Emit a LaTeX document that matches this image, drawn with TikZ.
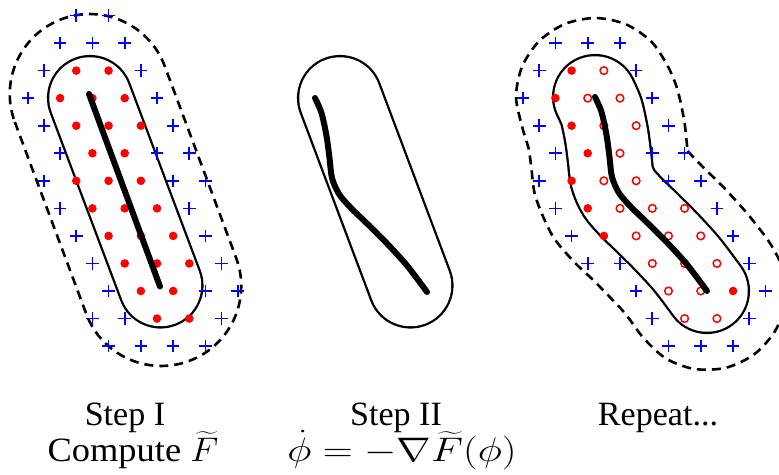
\documentclass[tikz,border=0pt]{standalone}
\usepackage{fontspec}
\setmainfont{Liberation Serif}
% the flow curve, relative to its start point
\newcommand{\flowcurve}{plot[smooth] coordinates {(0,0) (6.5,15) (11.5,38) (14.5,60) (17,80) (24,96) (36,110) (52,125.5) (72,145.5) (92,167.5) (112,194)}}
\begin{document}
\begin{tikzpicture}[x=1pt, y=-1pt,
  caption/.style={font=\fontsize{17.28}{20}\selectfont, scale=1.97, inner sep=0pt, anchor=base},
  tube/.style={line width=2.3pt, double distance=81.5pt, line cap=round},
  halo/.style={line width=2.6pt, dash pattern=on 9pt off 6pt},
  track/.style={line width=6pt, line cap=round},
  ring/.style={draw=red, line width=1.5pt},
  bplus/.pic={\draw[blue, line width=1.7pt] (-6.3,0) -- (6.3,0) (0,-6.3) -- (0,6.3);}]
\useasboundingbox (0,0) rectangle (779,474);

% Step I
\begin{scope}[shift={(125.5,190)}, rotate=20.42]
  \draw[halo, rounded corners=80pt] (-80,-182.4) rectangle (80,182.4);
\end{scope}
\draw[tube] (90,98) -- (160.5,285.5);
\foreach \c/\j in {3/0,5/0, 2/1,4/1,6/1, 1/2,7/2, 0/3,8/3, 1/4,9/4, 2/5,8/5,10/5,
    1/6,9/6,11/6, 2/7,10/7, 3/8,11/8, 4/9,12/9, 5/10,11/10,13/10, 4/11,6/11,12/11,
    5/12,7/12,9/12,11/12}
  \pic at ({27.8+16.15*\c},{15.5+27.55*\j}) {bplus};
\foreach \c/\j in {3/2,5/2, 2/3,4/3,6/3, 3/4,5/4,7/4, 4/5,6/5, 3/6,5/6,7/6, 4/7,6/7,8/7,
    5/8,7/8,9/8, 6/9,8/9,10/9, 7/10,9/10, 8/11,10/11}
  \fill[red] ({27.8+16.15*\c},{15.5+27.55*\j}) circle[radius=4.3];
\draw[track] (89,94) -- (160,286.5);

% Step II
\draw[tube] (340,98) -- (410.5,285.5);
\draw[track, shift={(315,98)}] \flowcurve;

% Repeat
\draw[halo] plot[smooth] coordinates {(687.5,151) (702.3,166.4) (724.2,188) (747.9,214.3)
  (770.2,243.6) (783.3,270.6) (785.3,301.3) (775.4,330.5) (754.4,354.2) (726.1,367.7)
  (694.6,369) (666.3,358.7) (643.8,338.4) (626.1,314.7) (609.8,297) (591.7,278.6)
  (573.7,261.5) (552.2,235.3) (535.6,197.1) (531.3,167.3) (528.7,148.8) (522.6,128.5)
  (516,97) (522,66.8) (539.1,41.1) (564.8,24) (595,18) (625.2,24) (650.9,41.1)
  (667.4,65.5) (677.3,89.1) (684.3,121.2) (687.5,151)};
\draw[tube, shift={(595,97)}] \flowcurve;
\foreach \c/\j in {2/1,4/1,6/1, 1/2,7/2, 0/3,8/3, 1/4,9/4, 2/5,8/5,10/5, 1/6,9/6,11/6,
    2/7,12/7, 3/8,13/8, 4/9,6/9,14/9, 7/10,15/10, 8/11,14/11, 9/12,11/12,13/12}
  \pic at ({523.1+16.15*\c},{15.5+27.55*\j}) {bplus};
\foreach \c/\j in {3/2, 2/3, 3/4, 4/5, 3/6, 4/7, 5/8, 13/10}
  \fill[red] ({523.1+16.15*\c},{15.5+27.55*\j}) circle[radius=4.3];
\foreach \c/\j in {5/2, 4/3,6/3, 5/4,7/4, 6/5, 5/6,7/6, 6/7,8/7,10/7, 7/8,9/8,11/8,
    8/9,10/9,12/9, 9/10,11/10, 10/11,12/11}
  \draw[ring] ({523.1+16.15*\c},{15.5+27.55*\j}) circle[radius=3.8];
\draw[track, shift={(595,97)}] \flowcurve;

% captions
\node[caption] (s1) at (125,425) {Step I};
\node[caption, xscale=1.07] (c1) at (133,461) {Compute $\widetilde{F}$};
\node[caption] (s2) at (396,425) {Step II};
\node[caption, xscale=1.22] (c2) at (402,461) {$\dot{\phi} = -\nabla\widetilde{F}(\phi)$};
\node[caption] (s3) at (658,425) {Repeat...};
\end{tikzpicture}
\end{document}
